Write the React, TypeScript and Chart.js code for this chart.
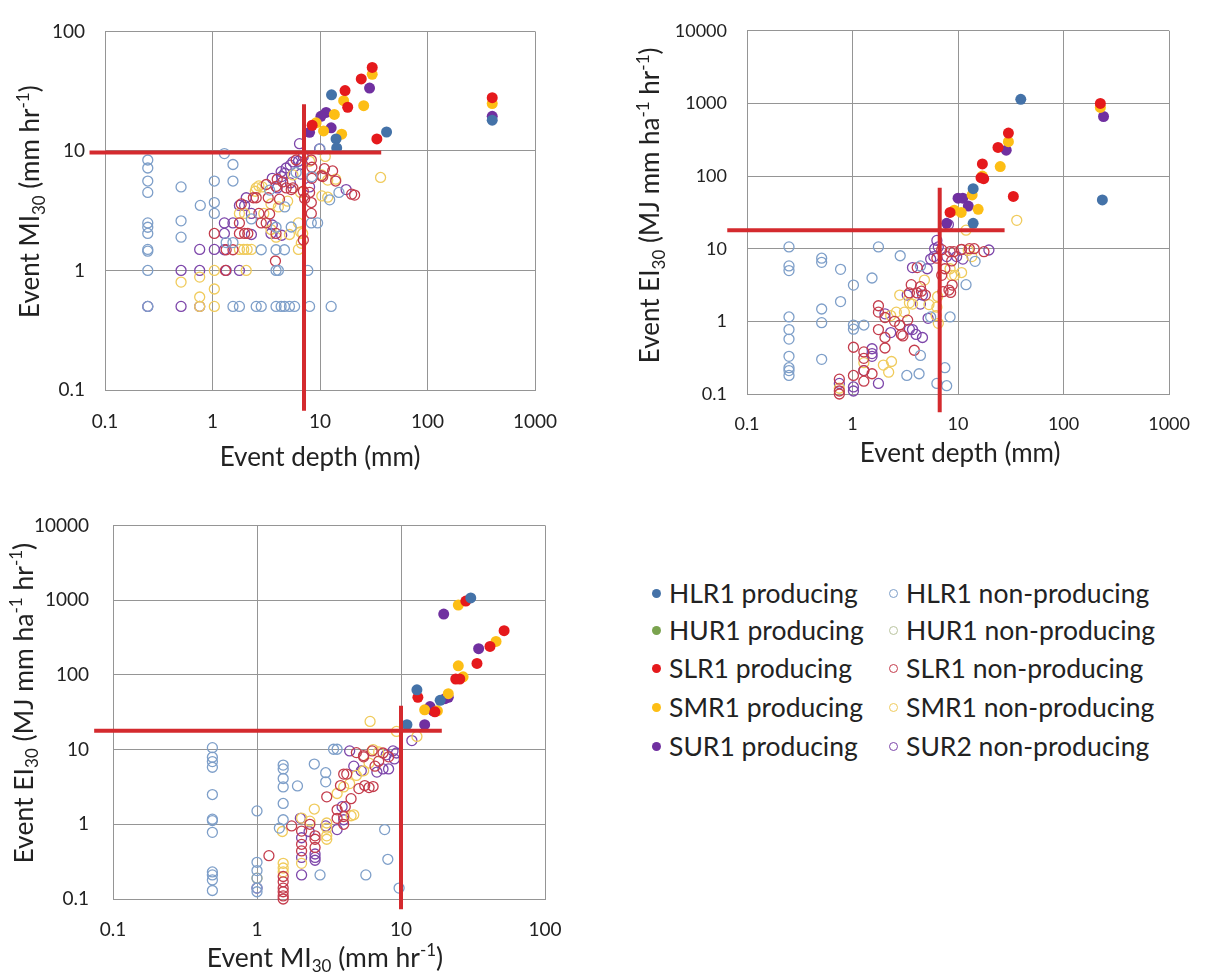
import React, { useEffect, useRef } from "react";
import { Chart, registerables } from "chart.js";

Chart.register(...registerables);

type Pt = [number, number];

const FONT = "Lato, 'Open Sans', 'DejaVu Sans', sans-serif";
const TEXT = "#222222";
const GRID = "#959595";
const THRESH = "#D42A2E";

// series names (legend order)
const SERIES = [
  "HLR1 producing", "HUR1 producing", "SLR1 producing", "SMR1 producing", "SUR1 producing",
  "HLR1 non-producing", "HUR1 non-producing", "SLR1 non-producing", "SMR1 non-producing", "SUR2 non-producing",
];
const SERIES_COLORS = [
  "#4472A8", "#7AA34E", "#E5191C", "#FDBE15", "#7030A0",
  "#7E9FC9", "#B9C49E", "#C43C4C", "#F0CB5C", "#7D46AA",
];
const SERIES_FILLED = [true, true, true, true, true, false, false, false, false, false];

// axis ticks
const DEPTH_TICKS = [0.1, 1, 10, 100, 1000];
const DEPTH_LABELS = ["0.1", "1", "10", "100", "1000"];
const MI_TICKS = [0.1, 1, 10, 100];
const MI_LABELS = ["0.1", "1", "10", "100"];
const EI_TICKS = [0.1, 1, 10, 100, 1000, 10000];
const EI_LABELS = ["0.1", "1", "10", "100", "1000", "10000"];

// ---------- Panel 1: event depth vs MI30 ----------
const P1_HLR1_P: Pt[] = [[12.8, 29.5], [14.1, 12.6], [14.3, 10.6], [41.6, 14.4], [400, 18.1]];
const P1_HUR1_P: Pt[] = [];
const P1_SLR1_P: Pt[] = [[30.6, 50], [24.2, 40], [17.1, 32], [18.1, 23.2], [8.45, 16.4], [33.8, 12.6], [400, 27.9]];
const P1_SMR1_P: Pt[] = [[30.6, 43.7], [16.6, 26.3], [25.5, 23.9], [13.6, 20.2], [9.2, 17.2], [10.8, 14.7], [15.9, 13.8], [400, 24.9]];
const P1_SUR1_P: Pt[] = [[28.9, 33.6], [11.4, 21], [10.2, 19.5], [12.7, 15.6], [8.0, 14.3], [400, 19.5]];
const P1_HLR1_N: Pt[] = [
  [0.25, 8.4], [0.25, 7.2], [0.25, 5.6], [0.25, 4.5], [0.25, 2.5], [0.25, 2.3], [0.25, 2.04], [0.25, 1.5], [0.25, 1.45], [0.25, 1.0], [0.25, 0.5],
  [0.51, 5.0], [0.51, 2.6], [0.51, 1.9], [0.77, 3.5], [1.04, 5.6], [1.04, 3.7], [1.04, 3.0],
  [1.29, 9.5], [1.55, 7.7], [1.55, 5.6], [1.34, 1.71], [1.55, 1.71],
  [1.55, 0.5], [1.78, 0.5], [2.55, 0.5], [2.84, 0.5], [3.9, 0.5], [4.35, 0.5], [4.67, 0.5], [5.2, 0.5], [5.8, 0.5], [8.0, 0.5], [12.7, 0.5],
  [3.9, 1.0], [4.1, 1.0], [7.7, 1.0], [2.84, 1.49], [3.9, 1.49], [4.67, 1.49],
  [2.3, 2.7], [3.9, 2.3], [5.4, 2.31], [4.7, 3.4], [8.3, 2.5], [9.5, 2.5], [8.4, 6.1], [10, 10.4], [15, 4.5], [3.4, 4.7], [6, 6.6], [12.3, 3.9],
];
const P1_HUR1_N: Pt[] = [];
const P1_SLR1_N: Pt[] = [
  [1.04, 2.04], [1.34, 1.49], [1.55, 1.49], [1.78, 2.04], [1.99, 2.04], [2.13, 2.04], [1.78, 2.5], [1.85, 3.6], [2.4, 4.06], [2.55, 4.06], [2.7, 3.0],
  [2.84, 2.5], [3.16, 2.5], [3.9, 2.04], [3.85, 1.2], [3.4, 2.97], [3.3, 4.06], [4.2, 3.95], [3.16, 5.24], [3.9, 5.05], [4.0, 5.8], [4.5, 5.5],
  [4.85, 4.9], [5.4, 4.75], [5.6, 4.9], [6.0, 8.4], [8.3, 8.4], [8.4, 5.9], [8.0, 4.5], [8.3, 3.7], [8.3, 3.0], [8.4, 7.3], [7.0, 4.6], [7.2, 4.0], [7.0, 1.8],
  [10.6, 6.1], [11, 7.1], [13.1, 6.8], [10.3, 6.2], [14, 5.6], [19.7, 4.35], [21, 4.27], [1.32, 1.0],
];
const P1_SMR1_N: Pt[] = [
  [0.51, 0.8], [0.76, 0.88], [0.76, 0.6], [0.76, 0.5], [1.04, 1.0], [1.04, 0.7], [1.04, 0.5], [1.78, 1.5], [1.95, 1.5], [2.1, 1.5], [2.3, 1.5], [2.06, 1.0],
  [1.78, 3.0], [1.99, 3.0], [2.55, 4.9], [2.7, 5.1], [2.5, 4.6], [2.9, 5.0], [3.5, 3.6], [4.1, 3.4], [5.6, 6.3], [6.6, 4.5], [6.3, 1.5], [6.6, 2.1], [6.3, 2.5],
  [6.9, 2.04], [6.7, 1.69], [10.4, 6.3], [11.8, 5.7], [14, 5.8], [11.8, 4.1], [10.4, 4.2], [36.6, 6.0], [11.2, 9.0], [8, 8.2], [3.5, 2.2], [3.9, 1.9], [5.2, 2.0], [3.0, 3.0], [5.0, 3.8],
];
const P1_SUR2_N: Pt[] = [
  [0.25, 0.5], [0.51, 1.0], [0.51, 0.5], [0.76, 1.5], [0.76, 1.0], [0.76, 0.5], [1.04, 1.5], [1.34, 1.0], [1.78, 1.0],
  [1.29, 2.5], [1.55, 2.5], [1.29, 2.04], [1.29, 1.49], [1.78, 3.5], [1.99, 3.5], [2.06, 4.06], [2.3, 3.0], [3.6, 2.4], [3.5, 2.04],
  [3.6, 5.9], [4.35, 6.7], [4.85, 7.2], [5.6, 8.1], [6.7, 7.7], [9.9, 10.4], [6.45, 11.5], [5.3, 7.6], [6.3, 8.2], [4.7, 6.5], [6.6, 6.4], [4.4, 6.1],
  [5.3, 5.4], [4.0, 4.9], [17.5, 4.75], [2.3, 2.0], [4.4, 1.97], [8.0, 5.0], [7.0, 9.0],
];
const P1_THRESH_H: Pt[] = [[0.0718, 9.7], [37.1, 9.7]];
const P1_THRESH_V: Pt[] = [[7.1, 24.6], [7.1, 0.067]];

// ---------- Panel 2: event depth vs EI30 ----------
const P2_HLR1_P: Pt[] = [[39.3, 1140], [233, 47], [13.9, 67], [13.9, 22.4]];
const P2_HUR1_P: Pt[] = [];
const P2_SLR1_P: Pt[] = [[223, 1000], [30, 391], [23.9, 248], [17, 147], [16.5, 95], [17.5, 92], [33.4, 52.4], [8.4, 31.6]];
const P2_SMR1_P: Pt[] = [[223, 880], [30, 298], [25.1, 135], [17, 100], [13.6, 55], [15.5, 34.9], [9.2, 33.9], [10.7, 31.6]];
const P2_SUR1_P: Pt[] = [[239, 661], [28.6, 227], [10, 49.6], [11.1, 49.6], [12.5, 38.6], [7.8, 22.4]];
const P2_HLR1_N: Pt[] = [
  [0.25, 10.6], [0.25, 5.8], [0.25, 5.0], [0.25, 1.15], [0.25, 0.77], [0.25, 0.57], [0.25, 0.33], [0.25, 0.23], [0.25, 0.21], [0.25, 0.18],
  [0.51, 7.4], [0.51, 6.5], [0.51, 1.48], [0.51, 0.96], [0.51, 0.30], [0.77, 5.2], [0.77, 1.87],
  [1.02, 3.16], [1.02, 0.89], [1.02, 0.78], [1.28, 0.89], [1.53, 3.95], [1.76, 10.6], [2.83, 8.0], [3.27, 0.18], [4.27, 0.19],
  [4.4, 0.34], [4.4, 5.8], [5.5, 1.15], [6.3, 0.14], [7.8, 0.13], [7.5, 0.23], [8.4, 1.15], [11.9, 3.2], [14.5, 6.7],
];
const P2_HUR1_N: Pt[] = [];
const P2_SLR1_N: Pt[] = [
  [0.75, 0.16], [0.75, 0.11], [0.75, 0.1], [1.02, 0.18], [1.02, 0.44], [1.28, 0.38], [1.28, 0.31], [1.28, 0.15], [1.53, 0.19], [1.76, 1.64], [1.76, 1.34], [1.76, 0.77],
  [2.03, 1.13], [2.03, 0.6], [2.03, 0.43], [2.9, 0.66], [3.0, 0.63], [3.85, 0.4], [4.1, 5.5], [3.6, 3.2], [4.4, 3.0], [3.46, 2.46], [4.1, 2.46], [4.9, 2.3],
  [6.3, 7.4], [7.0, 9.7], [9.1, 9.1], [8.7, 6.8], [7.5, 5.3], [7.0, 4.3], [7.2, 2.56], [8.2, 2.7], [8.8, 3.16], [8.5, 2.5], [10.7, 9.7], [17.6, 9.1], [14.2, 10],
  [12.8, 10], [10.8, 9.8], [8.4, 9.1], [2.8, 0.89], [3.33, 1.04], [1.28, 0.21], [2.5, 1.0], [4.5, 2.6],
];
const P2_SMR1_N: Pt[] = [
  [0.75, 0.12], [1.96, 0.25], [2.2, 0.2], [2.34, 0.28], [2.6, 1.34], [3.1, 1.34], [2.8, 2.3], [3.46, 1.8], [3.7, 1.73], [6.3, 1.57], [6.5, 0.94],
  [10.8, 4.7], [9.3, 4.3], [8.7, 4.3], [8.4, 5.3], [11.9, 18], [36, 24.6], [1.28, 0.27], [6.2, 1.2], [6.4, 2.2], [5.3, 1.7], [2.3, 1.2], [4.8, 3.7], [12.5, 9.5], [13.5, 7.8],
];
const P2_SUR2_N: Pt[] = [
  [1.02, 0.125], [1.02, 0.11], [0.75, 0.14], [1.53, 0.42], [1.53, 0.36], [1.76, 0.14], [2.03, 1.27], [3.46, 0.78], [3.7, 0.77], [4.0, 0.66], [4.6, 0.6],
  [3.7, 5.5], [4.4, 1.73], [5.1, 5.3], [5.5, 7.2], [5.9, 7.8], [6.3, 13], [6.0, 10], [19.6, 9.6], [7.8, 7.8], [6.5, 10.6], [8.1, 21.5], [11.1, 7.2], [9.7, 7.8],
  [1.28, 0.21], [3.3, 2.3], [4.6, 2.3], [5.2, 1.1], [2.3, 0.7], [1.53, 0.33],
];
const P2_THRESH_H: Pt[] = [[0.065, 17.9], [27.6, 17.9]];
const P2_THRESH_V: Pt[] = [[6.7, 68.9], [6.7, 0.056]];

// ---------- Panel 3: MI30 vs EI30 ----------
const P3_HLR1_P: Pt[] = [[30.5, 1070], [12.9, 63], [18.7, 45.6], [11, 21.5]];
const P3_HUR1_P: Pt[] = [];
const P3_SLR1_P: Pt[] = [[28.2, 970], [52, 390], [41.5, 240], [33.7, 142], [24, 88], [25.6, 88], [13.1, 50], [17.2, 32]];
const P3_SMR1_P: Pt[] = [[25, 860], [45.7, 280], [25, 132], [27, 94], [21.3, 56], [14.6, 34], [17.9, 33]];
const P3_SUR1_P: Pt[] = [[19.8, 650], [34.6, 224], [20.2, 48], [21.3, 50], [15.9, 37.6], [16.7, 33], [14.6, 21.5]];
const P3_HLR1_N: Pt[] = [
  [0.49, 10.6], [0.49, 7.9], [0.49, 6.9], [0.49, 5.8], [0.49, 2.5], [0.49, 1.17], [0.49, 1.12], [0.49, 0.78], [0.49, 0.23], [0.49, 0.21], [0.49, 0.18], [0.49, 0.13],
  [1.0, 1.51], [1.0, 0.31], [1.0, 0.24], [1.0, 0.19], [1.0, 0.14], [1.0, 0.125],
  [1.52, 6.2], [1.52, 5.5], [1.52, 4.1], [1.52, 3.16], [1.52, 1.9], [1.52, 1.15],
  [1.91, 3.26], [2.5, 6.4], [3.0, 4.9], [3.0, 3.7], [3.4, 10.1], [3.6, 10.1], [1.43, 0.89], [2.74, 0.21], [5.7, 0.21], [7.7, 0.85], [8.1, 0.34], [9.7, 0.14],
];
const P3_HUR1_N: Pt[] = [];
const P3_SLR1_N: Pt[] = [
  [1.52, 0.14], [1.52, 0.125], [1.52, 0.11], [1.52, 0.1], [1.52, 0.2], [1.52, 0.17], [1.21, 0.38], [2.04, 0.81], [2.04, 0.54], [2.04, 0.44], [2.53, 0.7], [2.53, 0.63], [2.53, 0.49],
  [3.6, 1.2], [4.0, 1.0], [4.1, 1.72], [3.6, 1.56], [4.0, 1.27], [3.8, 3.3], [4.0, 4.7], [4.2, 4.7], [5.1, 3.0], [5.6, 3.3], [6.0, 3.1], [6.4, 3.2],
  [5.5, 8.0], [6.3, 9.6], [7.0, 7.0], [7.5, 9.0], [8.2, 8.0], [4.9, 9.1], [5.5, 8.3], [3.05, 2.33], [1.74, 0.95], [2.33, 1.0], [4.5, 2.2], [6.6, 6.0],
];
const P3_SMR1_N: Pt[] = [
  [1.52, 0.3], [1.52, 0.26], [1.52, 0.23], [1.0, 0.19], [2.04, 1.21], [3.05, 1.04], [3.05, 0.89], [3.05, 0.7], [3.05, 0.63], [2.04, 0.3],
  [3.6, 2.58], [4.0, 3.16], [4.4, 3.5], [4.9, 4.5], [5.5, 5.2], [2.33, 1.1], [4.7, 1.34], [6.1, 23.8], [9.3, 17.5], [12.9, 15], [6.4, 10], [7.0, 9.3],
  [6.0, 6.6], [2.5, 1.6], [1.5, 0.8], [4.5, 1.3],
];
const P3_SUR2_N: Pt[] = [
  [1.0, 0.14], [2.04, 0.66], [2.04, 0.36], [2.04, 0.21], [2.53, 0.4], [2.53, 0.33], [2.53, 0.36], [2.3, 0.8], [3.6, 0.85], [4.0, 1.15], [3.9, 1.72],
  [4.4, 9.6], [6.8, 5.0], [7.5, 5.5], [8.2, 5.5], [9.0, 7.5], [9.3, 9.0], [8.8, 9.6], [5.3, 5.2], [4.7, 6.0], [7.9, 8.5], [3.0, 0.95], [2.0, 1.2], [11.9, 13.2],
];
const P3_THRESH_H: Pt[] = [[0.074, 17.9], [19.2, 17.9]];
const P3_THRESH_V: Pt[] = [[10, 38.7], [10, 0.073]];

// ---------- rich text titles ----------
type Seg = { t: string; s?: "sub" | "sup" };
const T_DEPTH: Seg[] = [{ t: "Event depth (mm)" }];
const T_MI: Seg[] = [{ t: "Event MI" }, { t: "30", s: "sub" }, { t: " (mm hr" }, { t: "-1", s: "sup" }, { t: ")" }];
const T_EI: Seg[] = [
  { t: "Event EI" }, { t: "30", s: "sub" }, { t: " (MJ mm ha" }, { t: "-1", s: "sup" }, { t: " hr" }, { t: "-1", s: "sup" }, { t: ")" },
];

function drawRich(ctx: CanvasRenderingContext2D, segs: Seg[], cx: number, cy: number, size: number, rotate: boolean) {
  const small = Math.round(size * 0.66);
  ctx.save();
  ctx.translate(cx, cy);
  if (rotate) ctx.rotate(-Math.PI / 2);
  ctx.fillStyle = TEXT;
  ctx.textBaseline = "alphabetic";
  ctx.textAlign = "left";
  let total = 0;
  const widths = segs.map((sg) => {
    ctx.font = `${sg.s ? small : size}px ${FONT}`;
    const w = ctx.measureText(sg.t).width;
    total += w;
    return w;
  });
  let x = -total / 2;
  const base = size * 0.36;
  segs.forEach((sg, i) => {
    ctx.font = `${sg.s ? small : size}px ${FONT}`;
    let y = base;
    if (sg.s === "sub") y += size * 0.2;
    if (sg.s === "sup") y -= size * 0.4;
    ctx.fillText(sg.t, x, y);
    x += widths[i];
  });
  ctx.restore();
}

const richTitles = {
  id: "richTitles",
  afterDraw(chart: any, _args: any, o: any) {
    const { ctx, chartArea: a } = chart;
    drawRich(ctx, o.x, (a.left + a.right) / 2 + (o.xdx || 0), a.bottom + o.xOff, o.size, false);
    drawRich(ctx, o.y, a.left - o.yOff, (a.top + a.bottom) / 2 + (o.ydy || 0), o.size, true);
  },
};

type PanelSpec = {
  left: number; top: number; width: number; height: number;
  padTop: number; padRight: number; yAxisW: number; xAxisH: number;
  series: Pt[][]; hLine: Pt[]; vLine: Pt[];
  xTicks: number[]; xLabels: string[]; yTicks: number[]; yLabels: string[];
  tickSize: number; xPad: number; yPad: number;
  titleX: Seg[]; titleY: Seg[]; titleSize: number; xOff: number; yOff: number; ydy: number; xdx: number;
};

function toXY(pts: Pt[]) {
  return pts.map(([x, y]) => ({ x, y }));
}

function makeConfig(p: PanelSpec): any {
  const datasets: any[] = [];
  datasets.push({
    label: "threshold-h", data: toXY(p.hLine), showLine: true, borderColor: THRESH, borderWidth: 4,
    pointRadius: 0, clip: false, order: 0, borderCapStyle: "butt",
  });
  datasets.push({
    label: "threshold-v", data: toXY(p.vLine), showLine: true, borderColor: THRESH, borderWidth: 4,
    pointRadius: 0, clip: false, order: 0, borderCapStyle: "butt",
  });
  p.series.forEach((pts, i) => {
    const col = SERIES_COLORS[i];
    const filled = SERIES_FILLED[i];
    datasets.push({
      label: SERIES[i],
      data: toXY(pts),
      showLine: false,
      pointStyle: "circle",
      pointRadius: filled ? 5.5 : 5,
      pointBackgroundColor: filled ? col : "rgba(255,255,255,0)",
      pointBorderColor: col,
      pointBorderWidth: filled ? 0 : 1.3,
      order: filled ? 1 : 2,
      clip: false,
    });
  });
  const tickFont = { family: FONT, size: p.tickSize };
  return {
    type: "scatter",
    data: { datasets },
    plugins: [richTitles],
    options: {
      responsive: false,
      animation: false,
      events: [],
      layout: { padding: { top: p.padTop, right: p.padRight, left: 0, bottom: 0 } },
      plugins: {
        legend: { display: false },
        tooltip: { enabled: false },
        richTitles: {
          x: p.titleX, y: p.titleY, size: p.titleSize, xOff: p.xOff, yOff: p.yOff, ydy: p.ydy, xdx: p.xdx,
        },
      },
      scales: {
        x: {
          type: "logarithmic",
          min: p.xTicks[0], max: p.xTicks[p.xTicks.length - 1],
          afterBuildTicks: (s: any) => { s.ticks = p.xTicks.map((v) => ({ value: v })); },
          afterFit: (s: any) => { s.height = p.xAxisH; },
          ticks: {
            callback: (_v: any, i: number) => p.xLabels[i],
            font: tickFont, color: TEXT, padding: p.xPad, autoSkip: false, maxRotation: 0, minRotation: 0,
          },
          grid: { color: GRID, lineWidth: 1, drawTicks: false },
          border: { display: true, color: GRID, width: 1 },
        },
        y: {
          type: "logarithmic",
          min: p.yTicks[0], max: p.yTicks[p.yTicks.length - 1],
          afterBuildTicks: (s: any) => { s.ticks = p.yTicks.map((v) => ({ value: v })); },
          afterFit: (s: any) => { s.width = p.yAxisW; },
          ticks: {
            callback: (_v: any, i: number) => p.yLabels[i],
            font: tickFont, color: TEXT, padding: p.yPad, autoSkip: false,
          },
          grid: { color: GRID, lineWidth: 1, drawTicks: false },
          border: { display: true, color: GRID, width: 1 },
        },
      },
    },
  };
}

const PANELS: PanelSpec[] = [
  {
    left: 0, top: 0, width: 600, height: 490, padTop: 23, padRight: 65, yAxisW: 105, xAxisH: 100,
    series: [P1_HLR1_P, P1_HUR1_P, P1_SLR1_P, P1_SMR1_P, P1_SUR1_P, P1_HLR1_N, P1_HUR1_N, P1_SLR1_N, P1_SMR1_N, P1_SUR2_N],
    hLine: P1_THRESH_H, vLine: P1_THRESH_V,
    xTicks: DEPTH_TICKS, xLabels: DEPTH_LABELS, yTicks: MI_TICKS, yLabels: MI_LABELS,
    tickSize: 19, xPad: 20, yPad: 20,
    titleX: T_DEPTH, titleY: T_MI, titleSize: 26, xOff: 67, yOff: 75, ydy: -9, xdx: 0,
  },
  {
    left: 600, top: 0, width: 609, height: 490, padTop: 14, padRight: 29, yAxisW: 147, xAxisH: 96,
    series: [P2_HLR1_P, P2_HUR1_P, P2_SLR1_P, P2_SMR1_P, P2_SUR1_P, P2_HLR1_N, P2_HUR1_N, P2_SLR1_N, P2_SMR1_N, P2_SUR2_N],
    hLine: P2_THRESH_H, vLine: P2_THRESH_V,
    xTicks: DEPTH_TICKS, xLabels: DEPTH_LABELS, yTicks: EI_TICKS, yLabels: EI_LABELS,
    tickSize: 18, xPad: 19, yPad: 20,
    titleX: T_DEPTH, titleY: T_EI, titleSize: 26, xOff: 59, yOff: 97, ydy: -7, xdx: 2,
  },
  {
    left: 0, top: 490, width: 600, height: 486, padTop: 30, padRight: 55, yAxisW: 113, xAxisH: 77,
    series: [P3_HLR1_P, P3_HUR1_P, P3_SLR1_P, P3_SMR1_P, P3_SUR1_P, P3_HLR1_N, P3_HUR1_N, P3_SLR1_N, P3_SMR1_N, P3_SUR2_N],
    hLine: P3_THRESH_H, vLine: P3_THRESH_V,
    xTicks: MI_TICKS, xLabels: MI_LABELS, yTicks: EI_TICKS, yLabels: EI_LABELS,
    tickSize: 19, xPad: 19, yPad: 24,
    titleX: T_MI, titleY: T_EI, titleSize: 26.5, xOff: 58, yOff: 90, ydy: -9, xdx: -4,
  },
];

function Panel({ spec }: { spec: PanelSpec }) {
  const ref = useRef<HTMLCanvasElement | null>(null);
  useEffect(() => {
    if (!ref.current) return;
    const chart = new Chart(ref.current, makeConfig(spec));
    return () => chart.destroy();
  }, [spec]);
  return (
    <canvas
      ref={ref}
      width={spec.width}
      height={spec.height}
      style={{ position: "absolute", left: spec.left, top: spec.top, width: spec.width, height: spec.height }}
    />
  );
}

// legend layout
const LEGEND_ROWS = [593, 630, 668, 707, 746];
const LEGEND_COLS = [{ marker: 656, text: 669 }, { marker: 893, text: 906 }];

function Legend() {
  const items = SERIES.map((name, i) => {
    const col = LEGEND_COLS[i < 5 ? 0 : 1];
    const cy = LEGEND_ROWS[i % 5];
    const filled = SERIES_FILLED[i];
    const c = SERIES_COLORS[i];
    return (
      <React.Fragment key={name}>
        <div
          style={{
            position: "absolute", left: col.marker - 4.5, top: cy - 4.5, width: 9, height: 9, borderRadius: "50%",
            boxSizing: "border-box", background: filled ? c : "transparent", border: filled ? "none" : `1.3px solid ${c}`,
          }}
        />
        <div
          style={{
            position: "absolute", left: col.text, top: cy - 17, height: 34, lineHeight: "34px",
            fontFamily: FONT, fontSize: 26.5, color: TEXT, whiteSpace: "nowrap",
          }}
        >
          {name}
        </div>
      </React.Fragment>
    );
  });
  return <>{items}</>;
}

export default function App() {
  return (
    <div style={{ position: "fixed", left: 0, top: 0, width: 1209, height: 976, background: "#fff", overflow: "hidden" }}>
      {PANELS.map((s, i) => (
        <Panel key={i} spec={s} />
      ))}
      <Legend />
    </div>
  );
}
